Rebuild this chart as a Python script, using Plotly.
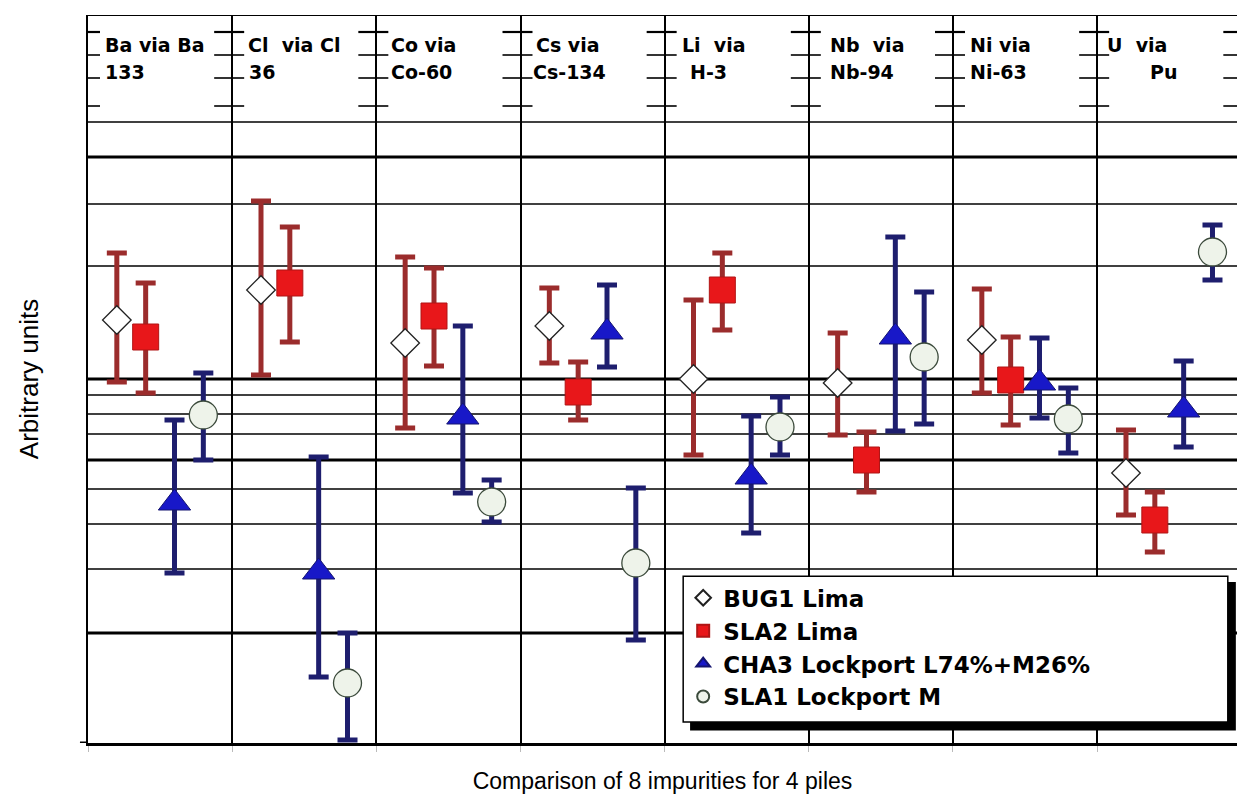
import numpy as np
import plotly.graph_objects as go

# ---------------- data (arbitrary units) ----------------
impurities = ["Ba via Ba 133", "Cl via Cl 36", "Co via Co-60", "Cs via Cs-134",
              "Li via H-3", "Nb via Nb-94", "Ni via Ni-63", "U via Pu"]
label_line1 = ["Ba via Ba", "Cl  via Cl", "Co via", "Cs via", "Li  via", "Nb  via", "Ni via", "U  via"]
label_line2 = ["133", "36", "Co-60", "Cs-134", "H-3", "Nb-94", "Ni-63", "Pu"]

series_names = ["BUG1 Lima", "SLA2 Lima", "CHA3 Lockport L74%+M26%", "SLA1 Lockport M"]

bug1_value = [423, 453, 400, 417, 364, 360, 403, 270]
bug1_upper = [490, 542, 486, 455, 443, 410, 454, 313]
bug1_lower = [361, 368, 315, 380, 288, 308, 350, 228]

sla2_value = [406, 460, 427, 351, 453, 283, 363, 223]
sla2_upper = [460, 516, 475, 381, 490, 311, 406, 251]
sla2_lower = [350, 401, 377, 323, 413, 251, 318, 191]

cha3_value = [240, 171, 326, 411, 266, 406, 360, 333]
cha3_upper = [323, 286, 417, 458, 327, 506, 405, 382]
cha3_lower = [170, 66, 250, 376, 210, 312, 325, 296]

sla1_value = [328, 60, 241, 180, 316, 386, 324, 491]
sla1_upper = [370, 110, 263, 255, 346, 451, 355, 518]
sla1_lower = [283, 3, 221, 103, 288, 319, 290, 463]

# gridline levels (arbitrary units)
major_levels = [586, 364, 283, 110]
minor_levels = [621, 539, 477, 348, 329, 309, 254, 219, 174]
header_ticks = [711, 688, 665, 637]
y_top = 728

# ---------------- styling ----------------
FONT = "Liberation Sans, Arial, sans-serif"
BOLD_FONT = "DejaVu Sans, sans-serif"
RED_BAR = "#9B2C2C"
BLUE_BAR = "#1E1E6E"

styles = [
    dict(symbol="diamond", size=22, color="white", line=dict(color="#222222", width=1.3), bar=RED_BAR, off=-0.3),
    dict(symbol="square", size=26, color="#E8171A", line=dict(color="#B01515", width=1), bar=RED_BAR, off=-0.1),
    dict(symbol="triangle-up", size=28, color="#1818C8", line=dict(color="#141470", width=1), bar=BLUE_BAR, off=0.1),
    dict(symbol="circle", size=28, color="#EEF3EA", line=dict(color="#3B4A3B", width=1.3), bar=BLUE_BAR, off=0.3),
]
values = [(bug1_value, bug1_upper, bug1_lower), (sla2_value, sla2_upper, sla2_lower),
          (cha3_value, cha3_upper, cha3_lower), (sla1_value, sla1_upper, sla1_lower)]

idx = np.arange(len(impurities))
fig = go.Figure()
for name, (v, up, lo), st in zip(series_names, values, styles):
    v = np.array(v); up = np.array(up); lo = np.array(lo)
    fig.add_trace(go.Scatter(
        x=idx + st["off"], y=v, mode="markers", name=name,
        customdata=impurities,
        marker=dict(symbol=st["symbol"], size=st["size"], color=st["color"], line=st["line"]),
        error_y=dict(type="data", symmetric=False, array=up - v, arrayminus=v - lo,
                     color=st["bar"], thickness=5, width=10),
        cliponaxis=False,
    ))

shapes = []
# horizontal grid lines
for lv in major_levels:
    shapes.append(dict(type="line", xref="paper", x0=0, x1=1, yref="y", y0=lv, y1=lv,
                       line=dict(color="black", width=3.2), layer="below"))
for lv in minor_levels:
    shapes.append(dict(type="line", xref="paper", x0=0, x1=1, yref="y", y0=lv, y1=lv,
                       line=dict(color="black", width=1.6), layer="below"))
shapes.append(dict(type="line", xref="paper", x0=0, x1=1, yref="y", y0=y_top, y1=y_top,
                   line=dict(color="black", width=2.2), layer="below"))
# small tick marks in the header at each category boundary
bounds = np.arange(len(impurities) + 1) - 0.5
for b in bounds:
    for k, hy in enumerate(header_ticks):
        shapes.append(dict(type="line", xref="x", xsizemode="pixel", xanchor=b, x0=-18, x1=12,
                           yref="y", y0=hy, y1=hy,
                           line=dict(color="black", width=2.2 if k == 0 else 1.6), layer="below"))
# legend box with shadow
shapes.append(dict(type="rect", xref="paper", yref="paper", x0=0.524, x1=0.999, y0=0.017, y1=0.221,
                   fillcolor="black", line=dict(width=0), layer="above"))
shapes.append(dict(type="rect", xref="paper", yref="paper", x0=0.518, x1=0.992, y0=0.029, y1=0.229,
                   fillcolor="white", line=dict(color="black", width=1.5), layer="above"))
# left extension of the bottom axis
shapes.append(dict(type="line", xref="paper", x0=-0.007, x1=0, yref="y", y0=0, y1=0,
                   line=dict(color="black", width=3), layer="above"))

annotations = []
l1_shift = [15, 14, 13, 13, 15, 19, 15, 8]
l2_shift = [15, 15, 13, 10, 23, 19, 15, 51]
for i in range(len(impurities)):
    annotations.append(dict(x=i - 0.5, y=698, xref="x", yref="y", xanchor="left", yanchor="middle",
                            xshift=l1_shift[i], showarrow=False,
                            text=label_line1[i].replace(" ", "\u00a0"),
                            font=dict(family=BOLD_FONT, size=19, color="black", weight="bold")))
    annotations.append(dict(x=i - 0.5, y=671, xref="x", yref="y", xanchor="left", yanchor="middle",
                            xshift=l2_shift[i], showarrow=False,
                            text=label_line2[i],
                            font=dict(family=BOLD_FONT, size=19, color="black", weight="bold")))

fig.update_layout(
    width=1237, height=804,
    margin=dict(l=88, r=0, t=15, b=61),
    paper_bgcolor="white", plot_bgcolor="white",
    font=dict(family=FONT, color="black"),
    shapes=shapes, annotations=annotations,
    showlegend=True,
    legend=dict(x=0.518, y=0.229, xanchor="left", yanchor="top",
                bgcolor="rgba(0,0,0,0)", borderwidth=0,
                font=dict(family=BOLD_FONT, size=23, color="black", weight="bold"),
                itemsizing="constant", tracegroupgap=0),
    xaxis=dict(range=[-0.5, 7.47], tickmode="array", tickvals=bounds, ticktext=[""] * len(bounds),
               showticklabels=False, ticks="outside", ticklen=6, tickcolor="#bbbbbb",
               showgrid=True, gridcolor="black", gridwidth=1.5, zeroline=False,
               showline=True, linecolor="black", linewidth=3,
               title=dict(text="Comparison of 8 impurities for 4 piles", standoff=22,
                          font=dict(family=FONT, size=23, color="black")),
               automargin=False, fixedrange=True),
    yaxis=dict(range=[0, y_top], showticklabels=False, ticks="", showgrid=False, zeroline=False,
               showline=True, linecolor="black", linewidth=2,
               title=dict(text="Arbitrary units", standoff=40,
                          font=dict(family=FONT, size=26, color="black")),
               automargin=False, fixedrange=True),
)

fig.write_html("out.html", config={"displayModeBar": False},
               post_script="document.body.style.margin='0';document.body.style.overflow='hidden';")
